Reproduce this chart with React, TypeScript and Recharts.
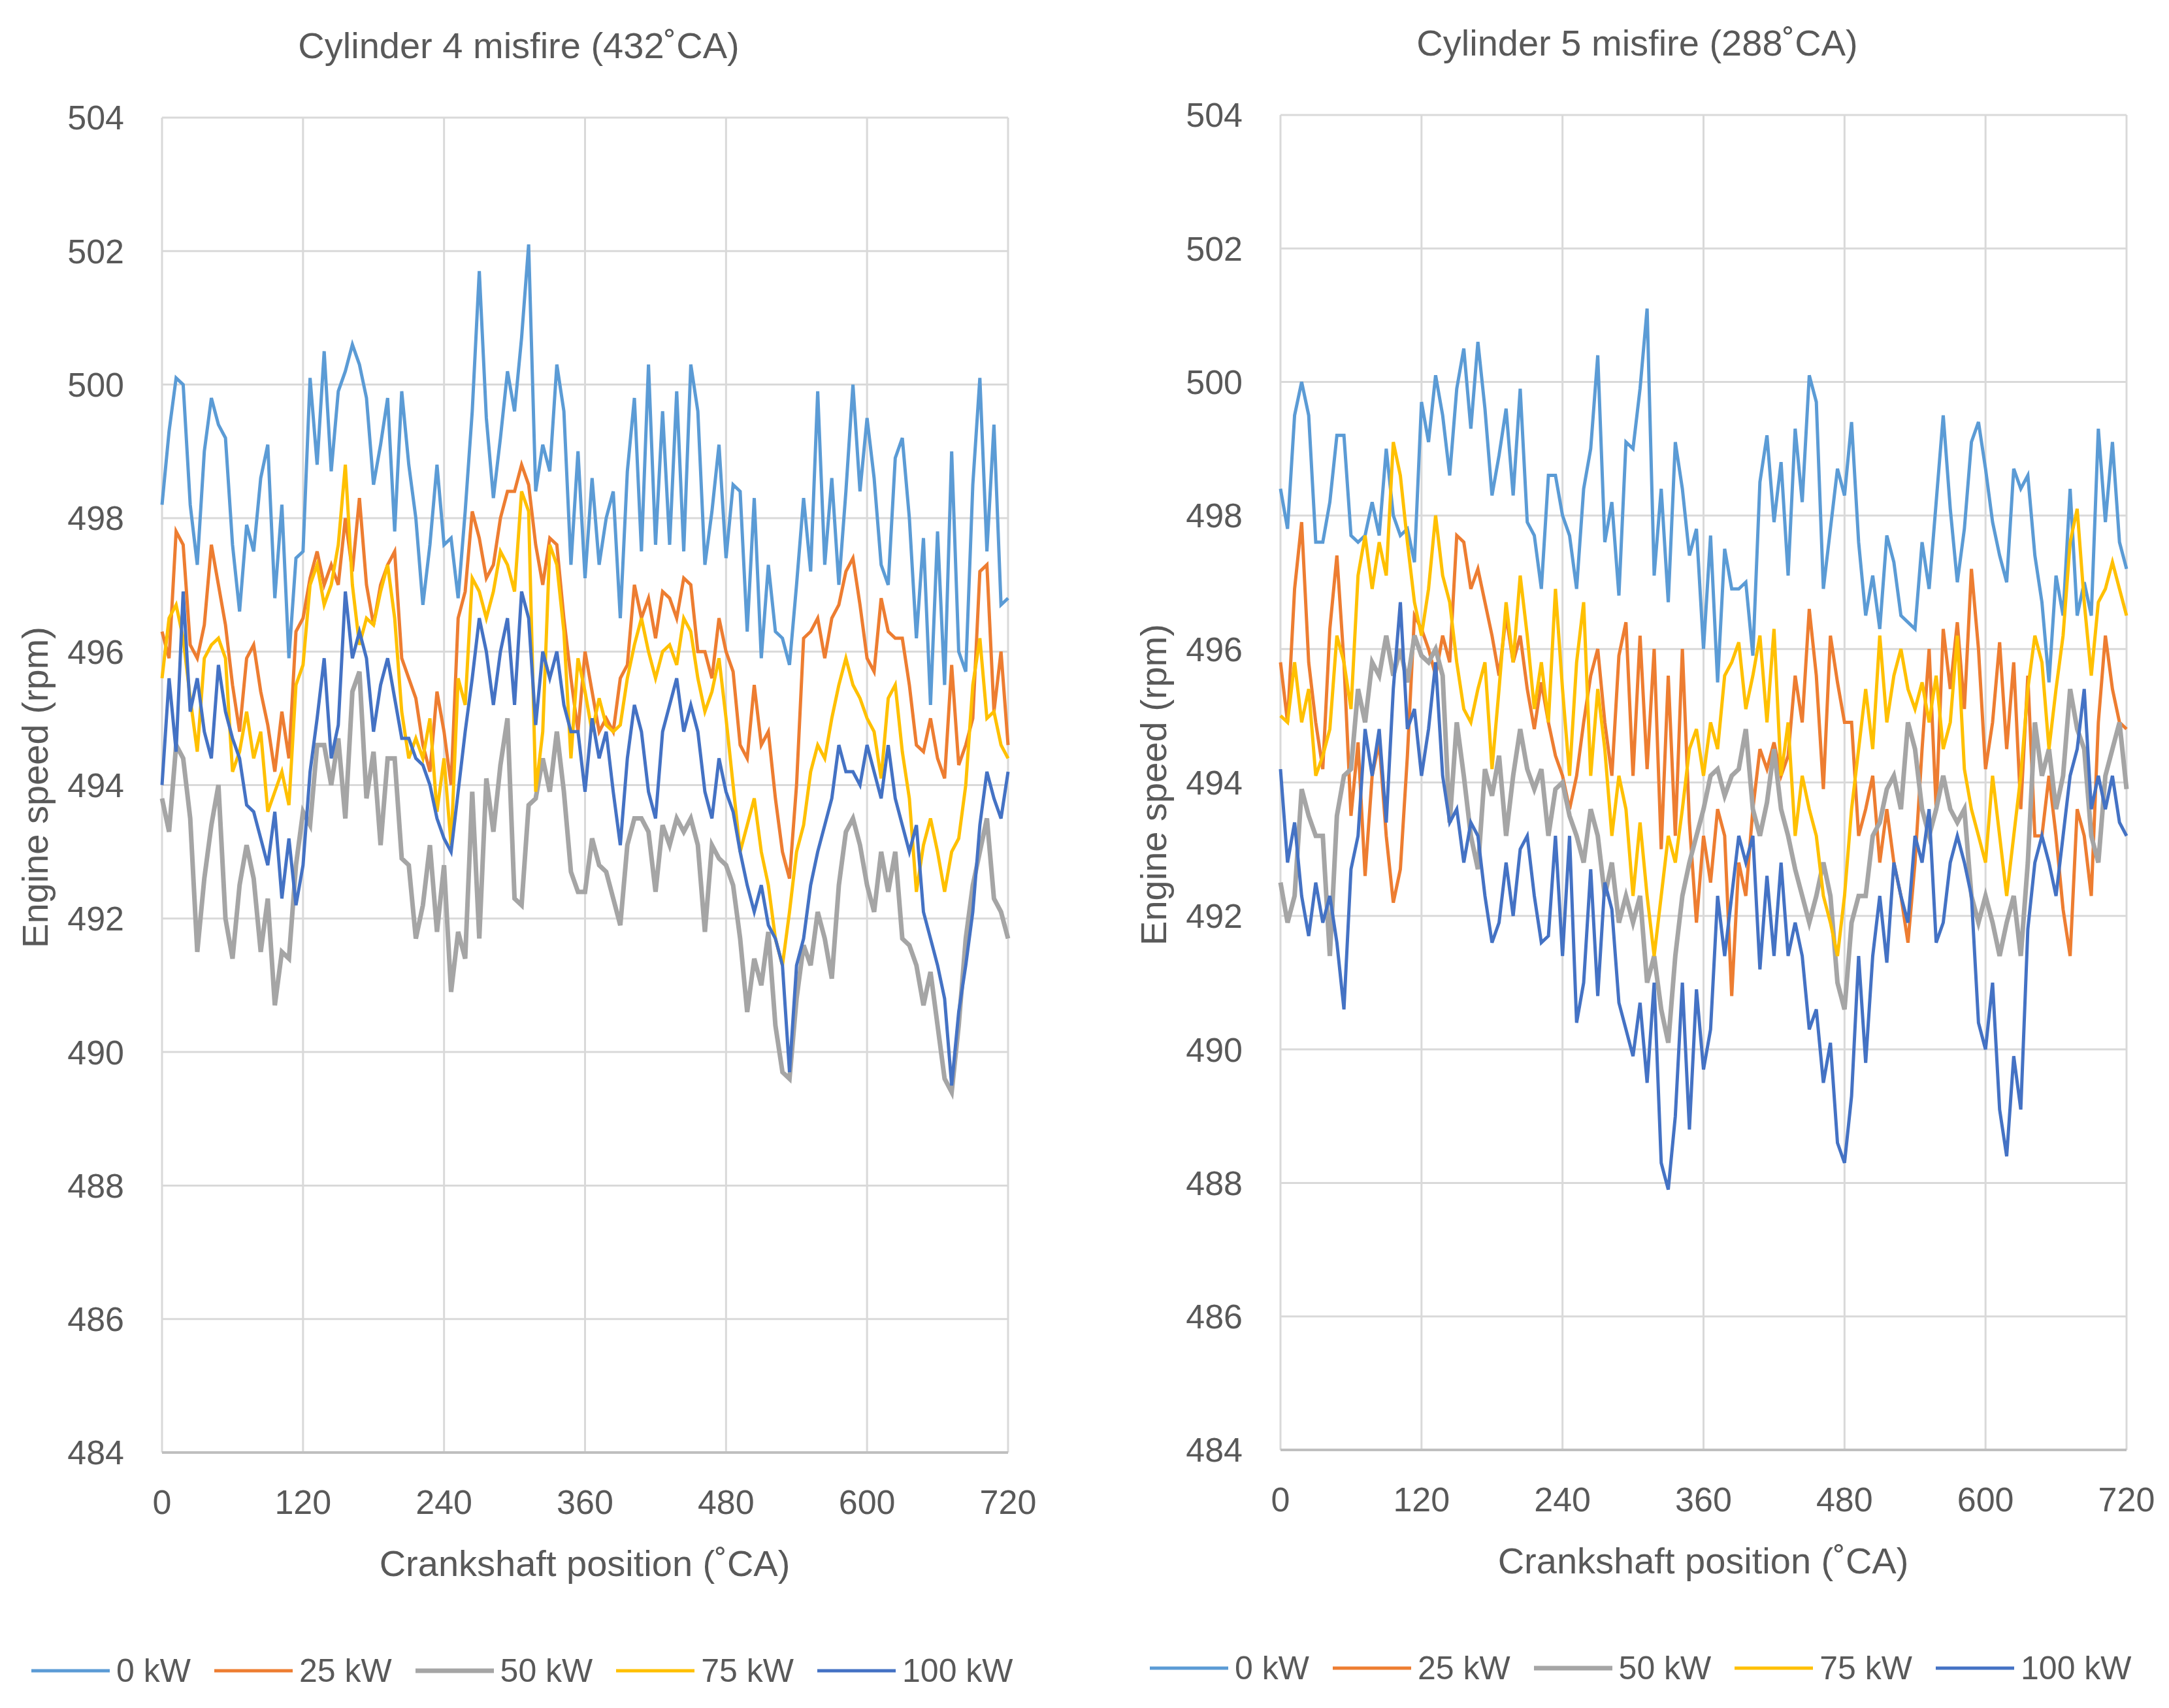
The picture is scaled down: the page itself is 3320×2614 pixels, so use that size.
import { LineChart, Line, XAxis, YAxis, CartesianGrid, Legend } from 'recharts';

const FONT = "'Liberation Sans', Arial, sans-serif";
const TEXT = '#595959';

const CRANK_ANGLES = Array.from({ length: 121 }, (_, i) => i * 6);
const X_TICKS = [0, 120, 240, 360, 480, 600, 720];
const Y_TICKS = [484, 486, 488, 490, 492, 494, 496, 498, 500, 502, 504];

const SERIES_NAMES = ['0 kW', '25 kW', '50 kW', '75 kW', '100 kW'];
const SERIES_COLORS = ['#5B9BD5', '#ED7D31', '#A5A5A5', '#FFC000', '#4472C4'];
const SERIES_WIDTHS = [5, 5, 7, 5, 5];

// Cylinder 4 misfire (432˚CA), one value every 6˚CA
const cyl4_0kW = [
  498.2, 499.3, 500.1, 500.0, 498.2, 497.3, 499.0, 499.8, 499.4, 499.2, 497.6, 496.6, 497.9, 497.5, 498.6, 499.1, 496.8, 498.2, 495.9, 497.4,
  497.5, 500.1, 498.8, 500.5, 498.7, 499.9, 500.2, 500.6, 500.3, 499.8, 498.5, 499.1, 499.8, 497.8, 499.9, 498.8, 498.0, 496.7, 497.6, 498.8,
  497.6, 497.7, 496.8, 498.1, 499.6, 501.7, 499.5, 498.3, 499.2, 500.2, 499.6, 500.7, 502.1, 498.4, 499.1, 498.7, 500.3, 499.6, 497.3, 499.0,
  497.1, 498.6, 497.3, 498.0, 498.4, 496.5, 498.7, 499.8, 497.5, 500.3, 497.6, 499.6, 497.6, 499.9, 497.5, 500.3, 499.6, 497.3, 498.1, 499.1,
  497.4, 498.5, 498.4, 496.3, 498.3, 495.9, 497.3, 496.3, 496.2, 495.8, 497.0, 498.3, 497.2, 499.9, 497.3, 498.6, 497.0, 498.4, 500.0, 498.4,
  499.5, 498.6, 497.3, 497.0, 498.9, 499.2, 498.0, 496.2, 497.7, 495.2, 497.8, 495.5, 499.0, 496.0, 495.7, 498.5, 500.1, 497.5, 499.4, 496.7,
  496.8,
];
const cyl4_25kW = [
  496.3, 495.9, 497.8, 497.6, 496.1, 495.9, 496.4, 497.6, 497.0, 496.4, 495.5, 494.8, 495.9, 496.1, 495.4, 494.9, 494.2, 495.1, 494.4, 496.3,
  496.5, 497.1, 497.5, 497.0, 497.3, 497.0, 498.0, 497.2, 498.3, 497.0, 496.4, 497.0, 497.3, 497.5, 495.9, 495.6, 495.3, 494.6, 494.2, 495.4,
  494.8, 494.0, 496.5, 496.9, 498.1, 497.7, 497.1, 497.3, 498.0, 498.4, 498.4, 498.8, 498.5, 497.6, 497.0, 497.7, 497.6, 496.5, 495.6, 494.8,
  496.0, 495.4, 494.8, 495.0, 494.8, 495.6, 495.8, 497.0, 496.5, 496.8, 496.2, 496.9, 496.8, 496.5, 497.1, 497.0, 496.0, 496.0, 495.6, 496.5,
  496.0, 495.7, 494.6, 494.4, 495.5, 494.6, 494.8, 493.8, 493.0, 492.6, 494.0, 496.2, 496.3, 496.5, 495.9, 496.5, 496.7, 497.2, 497.4, 496.7,
  495.9, 495.7, 496.8, 496.3, 496.2, 496.2, 495.5, 494.6, 494.5, 495.0, 494.4, 494.1, 495.8, 494.3, 494.6, 495.0, 497.2, 497.3, 495.1, 496.0,
  494.6,
];
const cyl4_50kW = [
  493.8, 493.3, 494.6, 494.4, 493.5, 491.5, 492.6, 493.4, 494.0, 492.0, 491.4, 492.5, 493.1, 492.6, 491.5, 492.3, 490.7, 491.5, 491.4, 492.8,
  493.6, 493.4, 494.6, 494.6, 494.0, 494.7, 493.5, 495.4, 495.7, 493.8, 494.5, 493.1, 494.4, 494.4, 492.9, 492.8, 491.7, 492.2, 493.1, 491.8,
  492.8, 490.9, 491.8, 491.4, 493.9, 491.7, 494.1, 493.3, 494.3, 495.0, 492.3, 492.2, 493.7, 493.8, 494.4, 493.9, 494.8, 493.9, 492.7, 492.4,
  492.4, 493.2, 492.8, 492.7, 492.3, 491.9, 493.1, 493.5, 493.5, 493.3, 492.4, 493.4, 493.1, 493.5, 493.3, 493.5, 493.1, 491.8, 493.1, 492.9,
  492.8, 492.5, 491.7, 490.6, 491.4, 491.0, 491.8, 490.4, 489.7, 489.6, 490.8, 491.6, 491.3, 492.1, 491.7, 491.1, 492.5, 493.3, 493.5, 493.1,
  492.5, 492.1, 493.0, 492.4, 493.0, 491.7, 491.6, 491.3, 490.7, 491.2, 490.4, 489.6, 489.4, 490.4, 491.7, 492.5, 493.0, 493.5, 492.3, 492.1,
  491.7,
];
const cyl4_75kW = [
  495.6, 496.5, 496.7, 496.2, 495.3, 494.5, 495.9, 496.1, 496.2, 495.9, 494.2, 494.5, 495.1, 494.4, 494.8, 493.6, 493.9, 494.2, 493.7, 495.5,
  495.8, 497.0, 497.3, 496.7, 497.0, 497.6, 498.8, 497.0, 496.1, 496.5, 496.4, 496.9, 497.3, 496.5, 495.1, 494.4, 494.7, 494.4, 495.0, 493.6,
  494.4, 493.1, 495.6, 495.2, 497.1, 496.9, 496.5, 496.9, 497.5, 497.3, 496.9, 498.4, 498.1, 493.9, 494.8, 497.6, 497.3, 496.3, 494.4, 495.9,
  495.4, 494.8, 495.3, 494.9, 494.8, 494.9, 495.6, 496.1, 496.5, 496.0, 495.6, 496.0, 496.1, 495.8, 496.5, 496.3, 495.6, 495.1, 495.4, 495.9,
  495.0, 494.0, 493.0, 493.4, 493.8, 493.0, 492.5, 491.7, 491.3, 492.1, 493.0, 493.4, 494.2, 494.6, 494.4, 495.0, 495.5, 495.9, 495.5, 495.3,
  495.0, 494.8, 494.1, 495.3, 495.5, 494.5, 493.8, 492.4, 493.1, 493.5, 493.0, 492.4, 493.0, 493.2, 494.0, 495.5, 496.2, 495.0, 495.1, 494.6,
  494.4,
];
const cyl4_100kW = [
  494.0, 495.6, 494.5, 496.9, 495.1, 495.6, 494.8, 494.4, 495.8, 495.1, 494.7, 494.4, 493.7, 493.6, 493.2, 492.8, 493.6, 492.3, 493.2, 492.2,
  492.8, 494.2, 495.0, 495.9, 494.4, 494.9, 496.9, 495.9, 496.3, 495.9, 494.8, 495.5, 495.9, 495.3, 494.7, 494.7, 494.4, 494.3, 494.0, 493.5,
  493.2, 493.0, 493.9, 494.8, 495.6, 496.5, 496.0, 495.2, 496.0, 496.5, 495.2, 496.9, 496.5, 494.9, 496.0, 495.6, 496.0, 495.2, 494.8, 494.8,
  493.9, 495.0, 494.4, 494.8, 493.9, 493.1, 494.4, 495.2, 494.8, 493.9, 493.5, 494.8, 495.2, 495.6, 494.8, 495.2, 494.8, 493.9, 493.5, 494.4,
  493.9, 493.6, 493.0, 492.5, 492.1, 492.5, 491.9, 491.7, 491.3, 489.7, 491.3, 491.7, 492.5, 493.0, 493.4, 493.8, 494.6, 494.2, 494.2, 494.0,
  494.6, 494.2, 493.8, 494.6, 493.8, 493.4, 493.0, 493.4, 492.1, 491.7, 491.3, 490.8, 489.5, 490.6, 491.3, 492.1, 493.4, 494.2, 493.8, 493.5,
  494.2,
];

// Cylinder 5 misfire (288˚CA), one value every 6˚CA
const cyl5_0kW = [
  498.4, 497.8, 499.5, 500.0, 499.5, 497.6, 497.6, 498.2, 499.2, 499.2, 497.7, 497.6, 497.7, 498.2, 497.7, 499.0, 498.0, 497.7, 497.8, 497.3,
  499.7, 499.1, 500.1, 499.5, 498.6, 499.9, 500.5, 499.3, 500.6, 499.6, 498.3, 498.9, 499.6, 498.3, 499.9, 497.9, 497.7, 496.9, 498.6, 498.6,
  498.0, 497.7, 496.9, 498.4, 499.0, 500.4, 497.6, 498.2, 496.8, 499.1, 499.0, 499.9, 501.1, 497.1, 498.4, 496.7, 499.1, 498.4, 497.4, 497.8,
  496.0, 497.7, 495.5, 497.5, 496.9, 496.9, 497.0, 495.9, 498.5, 499.2, 497.9, 498.8, 497.1, 499.3, 498.2, 500.1, 499.7, 496.9, 497.8, 498.7,
  498.3, 499.4, 497.6, 496.5, 497.1, 496.3, 497.7, 497.3, 496.5, 496.4, 496.3, 497.6, 496.9, 498.2, 499.5, 498.1, 497.0, 497.8, 499.1, 499.4,
  498.7, 497.9, 497.4, 497.0, 498.7, 498.4, 498.6, 497.4, 496.7, 495.5, 497.1, 496.5, 498.4, 496.5, 497.0, 496.5, 499.3, 497.9, 499.1, 497.6,
  497.2,
];
const cyl5_25kW = [
  495.8, 494.9, 496.9, 497.9, 495.8, 494.9, 494.2, 496.3, 497.4, 495.8, 493.5, 494.6, 492.6, 494.1, 494.6, 493.2, 492.2, 492.7, 494.4, 496.5,
  496.3, 496.0, 495.6, 496.2, 495.8, 497.7, 497.6, 496.9, 497.2, 496.7, 496.2, 495.6, 496.5, 495.8, 496.2, 495.4, 494.8, 495.5, 494.9, 494.4,
  494.1, 493.6, 494.1, 494.9, 495.6, 496.0, 494.9, 494.1, 495.9, 496.4, 494.1, 496.2, 494.2, 496.0, 493.0, 495.6, 493.2, 496.0, 493.4, 491.9,
  493.2, 492.5, 493.6, 493.2, 490.8, 492.8, 492.3, 493.6, 494.5, 494.2, 494.6, 494.1, 494.4, 495.6, 494.9, 496.6, 495.6, 493.9, 496.2, 495.5,
  494.9, 494.9, 493.2, 493.6, 494.1, 492.8, 493.6, 492.8, 492.3, 491.6, 492.8, 494.5, 496.0, 493.6, 496.3, 495.4, 496.4, 495.1, 497.2, 496.0,
  494.2, 494.9, 496.1, 494.5, 495.8, 493.6, 495.6, 493.2, 493.2, 494.1, 493.2, 492.1, 491.4, 493.6, 493.2, 492.3, 494.9, 496.2, 495.4, 494.9,
  494.8,
];
const cyl5_50kW = [
  492.5, 491.9, 492.3, 493.9, 493.5, 493.2, 493.2, 491.4, 493.5, 494.1, 494.2, 495.4, 494.9, 495.8, 495.6, 496.2, 495.6, 496.0, 495.5, 496.2,
  495.9, 495.8, 496.0, 495.6, 493.4, 494.9, 494.1, 493.2, 492.7, 494.2, 493.8, 494.4, 493.2, 494.1, 494.8, 494.2, 493.9, 494.2, 493.2, 493.9,
  494.0, 493.5, 493.2, 492.8, 493.6, 493.2, 492.3, 492.8, 491.9, 492.3, 491.9, 492.3, 491.0, 491.4, 490.6, 490.1, 491.4, 492.3, 492.8, 493.2,
  493.6, 494.1, 494.2, 493.8, 494.1, 494.2, 494.8, 493.6, 493.2, 493.7, 494.5, 493.6, 493.2, 492.7, 492.3, 491.9, 492.3, 492.8, 492.3, 491.0,
  490.6, 491.9, 492.3, 492.3, 493.2, 493.4, 493.9, 494.1, 493.6, 494.9, 494.5, 493.6, 493.2, 493.6, 494.1, 493.6, 493.4, 493.6, 492.3, 491.9,
  492.3, 491.9, 491.4, 491.9, 492.3, 491.4, 492.8, 494.9, 494.1, 494.5, 493.6, 494.1, 495.4, 494.8, 494.5, 493.2, 492.8, 494.1, 494.5, 494.9,
  493.9,
];
const cyl5_75kW = [
  495.0, 494.9, 495.8, 494.9, 495.4, 494.1, 494.4, 494.8, 496.2, 495.8, 495.1, 497.1, 497.7, 496.9, 497.6, 497.1, 499.1, 498.6, 497.6, 496.7,
  496.2, 496.9, 498.0, 497.1, 496.7, 495.8, 495.1, 494.9, 495.4, 495.8, 494.2, 495.4, 496.7, 495.8, 497.1, 496.2, 495.1, 495.8, 494.9, 496.9,
  495.4, 494.1, 495.8, 496.7, 494.1, 495.4, 494.5, 493.2, 494.1, 493.6, 492.3, 493.4, 492.3, 491.4, 492.3, 493.2, 492.8, 493.6, 494.5, 494.8,
  494.1, 494.9, 494.5, 495.6, 495.8, 496.1, 495.1, 495.6, 496.2, 494.9, 496.3, 494.1, 494.9, 493.2, 494.1, 493.6, 493.2, 492.3, 491.9, 491.4,
  492.3, 493.6, 494.5, 495.4, 494.5, 496.2, 494.9, 495.6, 496.0, 495.4, 495.1, 495.5, 494.9, 495.6, 494.5, 494.9, 496.2, 494.2, 493.6, 493.2,
  492.8, 494.1, 493.2, 492.3, 493.2, 494.1, 495.4, 496.2, 495.8, 494.5, 495.4, 496.2, 497.6, 498.1, 496.7, 495.6, 496.7, 496.9, 497.3, 496.9,
  496.5,
];
const cyl5_100kW = [
  494.2, 492.8, 493.4, 492.3, 491.7, 492.5, 491.9, 492.3, 491.6, 490.6, 492.7, 493.2, 494.8, 494.1, 494.8, 493.4, 495.4, 496.7, 494.8, 495.1,
  494.1, 494.8, 495.8, 494.1, 493.4, 493.6, 492.8, 493.4, 493.2, 492.3, 491.6, 491.9, 492.8, 492.0, 493.0, 493.2, 492.3, 491.6, 491.7, 493.2,
  491.4, 493.2, 490.4, 491.0, 492.7, 490.8, 492.5, 492.1, 490.7, 490.3, 489.9, 490.7, 489.5, 491.0, 488.3, 487.9, 489.0, 491.0, 488.8, 490.9,
  489.7, 490.3, 492.3, 491.4, 492.3, 493.2, 492.8, 493.2, 491.2, 492.6, 491.4, 492.8, 491.4, 491.9, 491.4, 490.3, 490.6, 489.5, 490.1, 488.6,
  488.3, 489.3, 491.4, 489.8, 491.4, 492.3, 491.3, 492.8, 492.3, 491.9, 493.2, 492.8, 493.6, 491.6, 491.9, 492.8, 493.2, 492.8, 492.3, 490.4,
  490.0, 491.0, 489.1, 488.4, 489.9, 489.1, 491.8, 492.8, 493.2, 492.8, 492.3, 493.2, 494.1, 494.5, 495.4, 493.6, 494.1, 493.6, 494.1, 493.4,
  493.2,
];

const renderLegend = () => (
  <div style={{ display: 'flex', alignItems: 'center', fontFamily: FONT, fontSize: 50, color: TEXT, whiteSpace: 'nowrap', lineHeight: '60px' }}>
    {SERIES_NAMES.map((name, s) => (
      <div key={name} style={{ display: 'flex', alignItems: 'center', marginRight: 36 }}>
        <svg width={120} height={12}>
          <line x1={0} y1={6} x2={120} y2={6} stroke={SERIES_COLORS[s]} strokeWidth={SERIES_WIDTHS[s]} />
        </svg>
        <span style={{ marginLeft: 10 }}>{name}</span>
      </div>
    ))}
  </div>
);

const renderYLabel = () => (
  <text x={53} y={1205} transform="rotate(-90, 53, 1205)" textAnchor="middle" dominantBaseline="central"
    fill={TEXT} fontSize={56} fontFamily={FONT}>
    Engine speed (rpm)
  </text>
);

const renderXLabel = () => (
  <text x={895} y={2392} textAnchor="middle" dominantBaseline="central" fill={TEXT} fontSize={56} fontFamily={FONT}>
    Crankshaft position (˚CA)
  </text>
);

interface MisfireChartProps {
  title: string;
  series: number[][];
  left: number;
  top: number;
}

function MisfireChart({ title, series, left, top }: MisfireChartProps) {
  const data = CRANK_ANGLES.map((ca, i) => {
    const row: Record<string, number> = { ca };
    SERIES_NAMES.forEach((name, s) => {
      row[name] = series[s][i];
    });
    return row;
  });
  const tickStyle = { fill: TEXT, fontSize: 52, fontFamily: FONT };

  return (
    <div style={{ position: 'absolute', left, top, width: 1660, height: 2614 }}>
      <div style={{ position: 'absolute', left: 294, top: 42, width: 1000, textAlign: 'center', fontFamily: FONT, fontSize: 56, lineHeight: '56px', color: TEXT, whiteSpace: 'nowrap' }}>
        {title}
      </div>
      <LineChart width={1660} height={2614} data={data} margin={{ top: 180, right: 117, bottom: 291, left: 0 }}>
        <CartesianGrid stroke="#d9d9d9" strokeWidth={3} />
        <XAxis dataKey="ca" type="number" domain={[0, 720]} ticks={X_TICKS} interval={0} height={100}
          tickLine={false} axisLine={{ stroke: '#bfbfbf', strokeWidth: 4 }} tickMargin={51} tick={tickStyle} label={renderXLabel} />
        <YAxis type="number" domain={[484, 504]} ticks={Y_TICKS} interval={0} width={248}
          tickLine={false} axisLine={false} tickSize={0} tickMargin={58} tick={tickStyle} label={renderYLabel} />
        <Legend layout="horizontal" verticalAlign="middle" align="center" content={renderLegend}
          wrapperStyle={{ top: 2527, left: 48, width: 1650, height: 60 }} />
        {SERIES_NAMES.map((name, s) => (
          <Line key={name} type="linear" dataKey={name} stroke={SERIES_COLORS[s]} strokeWidth={SERIES_WIDTHS[s]}
            dot={false} activeDot={false} isAnimationActive={false} />
        ))}
      </LineChart>
    </div>
  );
}

export default function App() {
  return (
    <div style={{ position: 'relative', width: 3320, height: 2614, background: '#fff', overflow: 'hidden' }}>
      <style>{'body{margin:0}'}</style>
      <MisfireChart title="Cylinder 4 misfire (432˚CA)" left={0} top={0}
        series={[cyl4_0kW, cyl4_25kW, cyl4_50kW, cyl4_75kW, cyl4_100kW]} />
      <MisfireChart title="Cylinder 5 misfire (288˚CA)" left={1712} top={-4}
        series={[cyl5_0kW, cyl5_25kW, cyl5_50kW, cyl5_75kW, cyl5_100kW]} />
    </div>
  );
}
